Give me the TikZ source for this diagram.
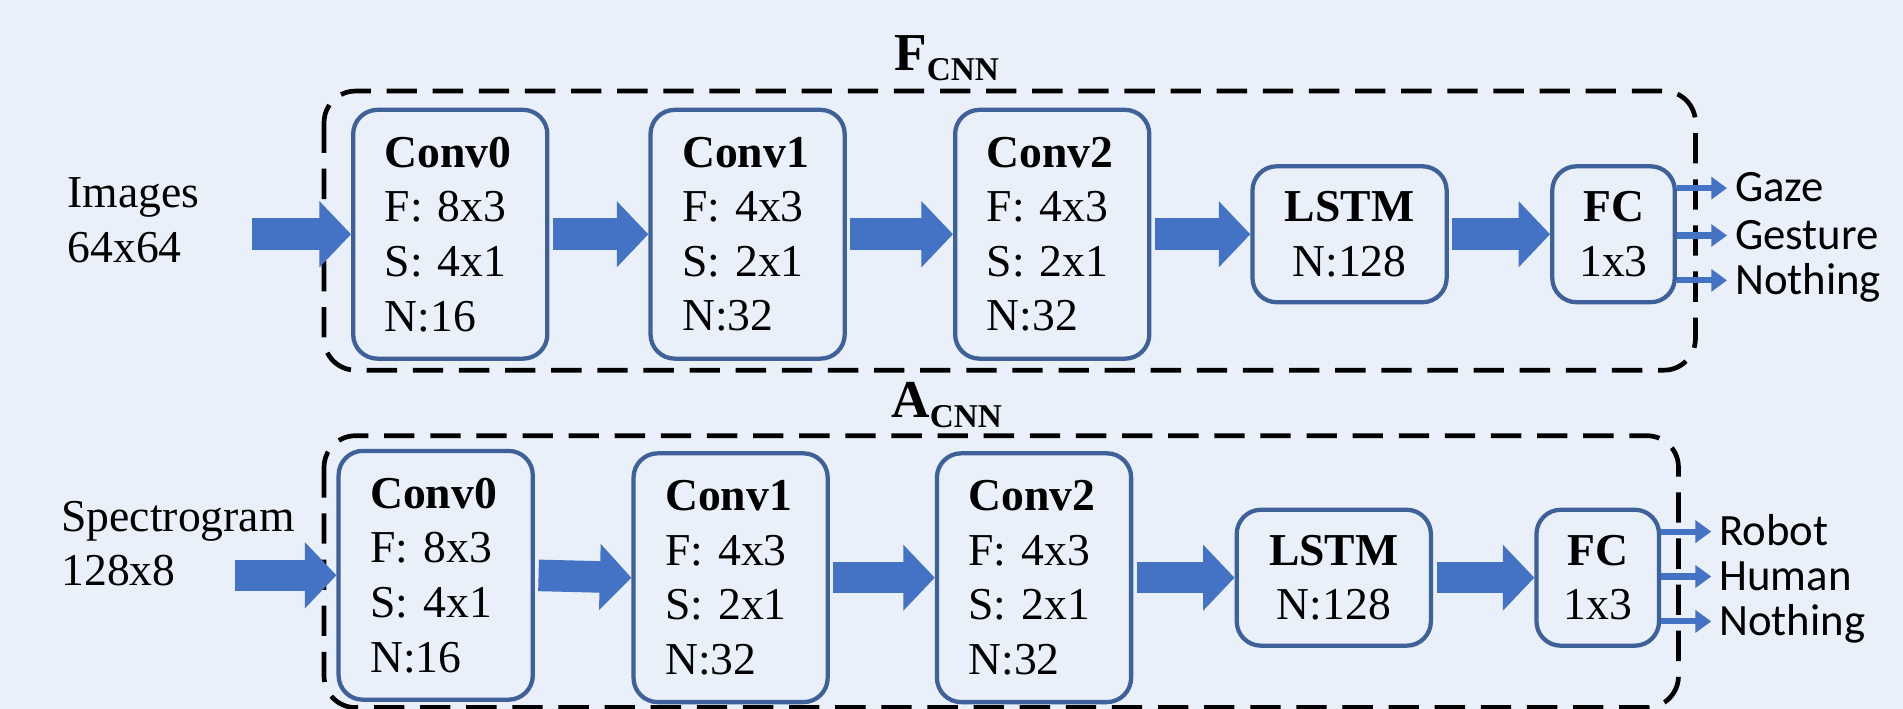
\documentclass[tikz,border=0pt]{standalone}
\usepackage{fontspec}
\setmainfont{Liberation Serif}
\newfontfamily\outfont{Carlito}
\usetikzlibrary{arrows.meta}

\definecolor{bgblue}{HTML}{E9F0FA}
\definecolor{edgeblue}{HTML}{3F6199}
\definecolor{arrblue}{HTML}{4472C4}

\tikzset{
  block/.style={draw=edgeblue, line width=1pt, rounded corners=2mm, minimum width=16mm,
    font=\fontsize{10.7}{12.8}\selectfont},
  convbox/.style={block, inner xsep=2.6mm, text width=10.8mm, align=left, minimum height=20.5mm},
  lstmbox/.style={block, align=center, minimum height=11.2mm},
  fcbox/.style={lstmbox, minimum width=10.1mm},
  frame/.style={draw=black, line width=1.1pt, dash pattern=on 2.5mm off 1.3mm, rounded corners=2.6mm},
  bigarrow/.style={draw=arrblue, line width=2.6mm, shorten <=0.3mm, -{Triangle[length=2.6mm,width=5.3mm]}},
  outarrow/.style={draw=arrblue, line width=0.5mm, -{Triangle[length=1.3mm,width=1.8mm]}},
  outlbl/.style={anchor=west, inner sep=0.6mm, text height=1.4ex, text depth=0pt,
    font=\outfont\fontsize{10.5}{12}\selectfont},
  inlbl/.style={anchor=north west, align=left, inner sep=0pt, font=\fontsize{10.7}{12.8}\selectfont},
  title/.style={anchor=base, inner sep=0pt, font=\fontsize{12.5}{14}\selectfont\bfseries}
}

\begin{document}
\begin{tikzpicture}[x=0.1mm, y=-0.1mm]

    %background
    \useasboundingbox (0,0) rectangle (1568,584);
    \fill[bgblue] (0,0) rectangle (1568,584);

    %dashed frames
    \draw[frame] (267,75) rectangle (1397,305);
    \draw[frame] (267,359) rectangle (1383,583);

    \node[title] (ftitle) at (780,58) {F\raisebox{-0.8mm}{\fontsize{7.8}{9}\selectfont CNN}};
    \node[title] (atitle) at (780,344) {A\raisebox{-0.8mm}{\fontsize{7.8}{9}\selectfont CNN}};

    %---------------------
    %F_CNN row
    \node[inlbl] (images) at (55,146) {Images\\64x64};
    \coordinate (imgin) at (205,193);

    \node[convbox] (fconv0) at (371,193) {\textbf{Conv0}\\F: 8x3\\S: 4x1\\N:16};
    \node[convbox] (fconv1) at (616,193) {\textbf{Conv1}\\F: 4x3\\S: 2x1\\N:32};
    \node[convbox] (fconv2) at (867,193) {\textbf{Conv2}\\F: 4x3\\S: 2x1\\N:32};
    \node[lstmbox] (flstm) at (1112,193) {\textbf{LSTM}\\N:128};
    \node[fcbox] (ffc) at (1329.5,193) {\textbf{FC}\\1x3};

    \draw[bigarrow] (imgin) -- (fconv0.west);
    \draw[bigarrow] (fconv0.east) -- (fconv1.west);
    \draw[bigarrow] (fconv1.east) -- (fconv2.west);
    \draw[bigarrow] (fconv2.east) -- (flstm.west);
    \draw[bigarrow] (flstm.east) -- (ffc.west);

    \node[outlbl] (gaze) at (1423,155) {Gaze};
    \node[outlbl] (gesture) at (1423,194) {Gesture};
    \node[outlbl] (fnothing) at (1423,231) {Nothing};
    \draw[outarrow] (ffc.east |- gaze.west) -- (gaze.west);
    \draw[outarrow] (ffc.east |- gesture.west) -- (gesture.west);
    \draw[outarrow] (ffc.east |- fnothing.west) -- (fnothing.west);

    %---------------------
    %A_CNN row
    \node[inlbl] (spectro) at (50,412) {Spectrogram\\128x8};
    \coordinate (specin) at (191,474);

    \node[convbox] (aconv0) at (359,474) {\textbf{Conv0}\\F: 8x3\\S: 4x1\\N:16};
    \node[convbox] (aconv1) at (602,476) {\textbf{Conv1}\\F: 4x3\\S: 2x1\\N:32};
    \node[convbox] (aconv2) at (852,476) {\textbf{Conv2}\\F: 4x3\\S: 2x1\\N:32};
    \node[lstmbox] (alstm) at (1099,476) {\textbf{LSTM}\\N:128};
    \node[fcbox] (afc) at (1316.5,476) {\textbf{FC}\\1x3};

    \draw[bigarrow] (specin) -- (aconv0.west);
    \draw[bigarrow] (aconv0.east) -- (aconv1.west);
    \draw[bigarrow] (aconv1.east) -- (aconv2.west);
    \draw[bigarrow] (aconv2.east) -- (alstm.west);
    \draw[bigarrow] (alstm.east) -- (afc.west);

    \node[outlbl] (robot) at (1410,438) {Robot};
    \node[outlbl] (human) at (1410,475) {Human};
    \node[outlbl] (anothing) at (1410,512) {Nothing};
    \draw[outarrow] (afc.east |- robot.west) -- (robot.west);
    \draw[outarrow] (afc.east |- human.west) -- (human.west);
    \draw[outarrow] (afc.east |- anothing.west) -- (anothing.west);

\end{tikzpicture}
\end{document}
